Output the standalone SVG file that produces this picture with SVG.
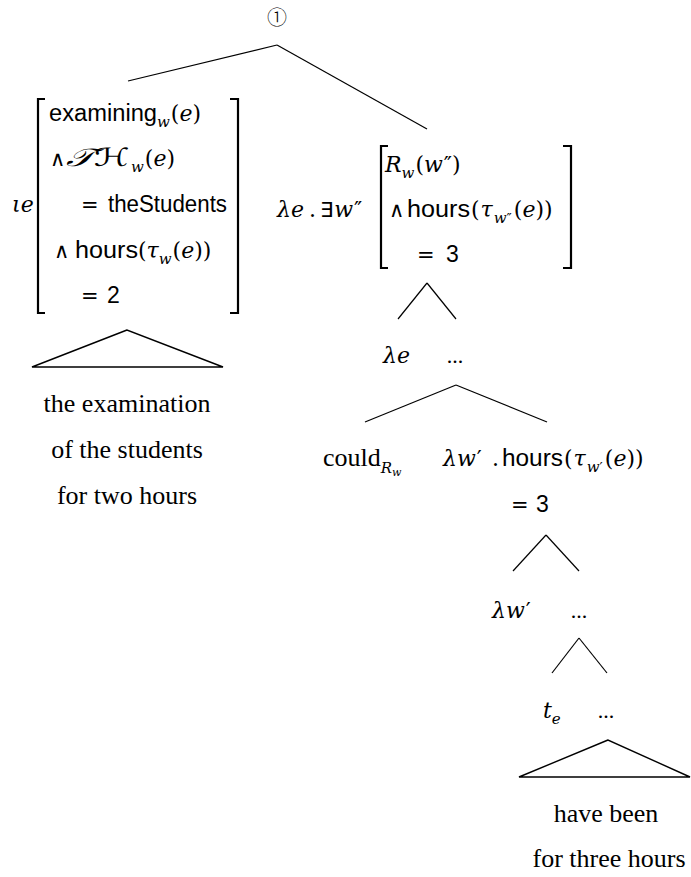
<svg xmlns="http://www.w3.org/2000/svg" width="691" height="877" viewBox="0 0 691 877">
<style>
text{fill:#000}
.s{font-family:"Liberation Sans",Arial,sans-serif;font-size:23px}
.m{font-family:"DejaVu Serif","Liberation Serif",serif;font-style:italic;font-size:22px}
.u{font-family:"DejaVu Serif","Liberation Serif",serif;font-style:normal;font-size:22px}
.y{font-family:"DejaVu Sans",sans-serif;font-size:21px}
.p{font-family:"DejaVu Sans",sans-serif;font-style:normal}
.sb{font-family:"DejaVu Serif","Liberation Serif",serif;font-style:italic;font-size:15px}
.ss{font-family:"DejaVu Serif","Liberation Serif",serif;font-style:italic;font-size:11px}
.r{font-family:"Liberation Serif","Times New Roman",serif;font-size:26px}
.c{text-anchor:middle}
.ln{stroke:#000;stroke-width:1.2;fill:none}
.br{stroke:#000;stroke-width:2.2;fill:none}
.tri{stroke:#000;stroke-width:1.4;fill:none;stroke-linejoin:miter}
</style>

<g id="connectors">
  <line class="ln" x1="277" y1="45" x2="128" y2="81"/>
  <line class="ln" x1="277" y1="45" x2="427" y2="129"/>
  <line class="ln" x1="427" y1="283" x2="398" y2="319"/>
  <line class="ln" x1="427" y1="283" x2="456" y2="319"/>
  <line class="ln" x1="456" y1="385" x2="365" y2="422"/>
  <line class="ln" x1="456" y1="385" x2="547" y2="422"/>
  <line class="ln" x1="546" y1="535" x2="513" y2="571"/>
  <line class="ln" x1="546" y1="535" x2="579" y2="571"/>
  <line class="ln" x1="579" y1="638" x2="552" y2="673"/>
  <line class="ln" x1="579" y1="638" x2="607" y2="673"/>
  <polygon class="tri" points="127,330 32,367 223,367"/>
  <polygon class="tri" points="608,740 519,777 690,777"/>
</g>

<g id="node-root">
  <text class="c" x="277" y="25" style="font-family:'Noto Sans CJK JP','DejaVu Sans',sans-serif;font-size:20px;font-weight:300">①</text>
</g>

<g id="node-iota">
  <text class="m" x="12" y="212">ιe</text>
  <path class="br" d="M45,99 H38 V313 H45"/>
  <path class="br" d="M230,99 H238 V313 H230"/>
  <text class="s" x="49" y="121" textLength="108" lengthAdjust="spacingAndGlyphs">examining</text>
  <text class="m" x="157" y="121"><tspan class="sb" dy="6">w</tspan><tspan class="u" dy="-6" dx="1">(</tspan>e<tspan class="u">)</tspan></text>
  <text class="y" x="50" y="166">∧</text>
  <text x="66" y="166" textLength="64" lengthAdjust="spacingAndGlyphs" style="font-family:'DejaVu Serif','DejaVu Sans',serif;font-style:italic;font-size:25px">𝒯ℋ</text>
  <text class="m" x="131" y="166"><tspan class="sb" dy="6">w</tspan><tspan class="u" dy="-6" dx="1">(</tspan>e<tspan class="u">)</tspan></text>
  <text class="y" x="81" y="212">=</text>
  <text class="s" x="108" y="212" textLength="119" lengthAdjust="spacingAndGlyphs">theStudents</text>
  <text class="y" x="54" y="258">∧</text>
  <text class="s" x="75" y="258" textLength="63" lengthAdjust="spacingAndGlyphs">hours</text>
  <text class="u" x="138" y="258">(<tspan class="m">τ</tspan><tspan class="sb" dy="6">w</tspan><tspan dy="-6" dx="1">(</tspan><tspan class="m">e</tspan>))</text>
  <text class="y" x="81" y="303">=</text>
  <text class="s" x="107" y="303">2</text>
</g>

<g id="node-left-leaf">
  <text class="r c" x="127" y="412">the examination</text>
  <text class="r c" x="127" y="458">of the students</text>
  <text class="r c" x="127" y="504">for two hours</text>
</g>

<g id="node-lambda-exists">
  <text class="m" x="277" y="217">λe<tspan class="u" dx="5">.</tspan><tspan class="y" dx="4" style="font-style:normal">∃</tspan><tspan dx="1">w</tspan><tspan class="p" dx="1">″</tspan></text>
  <path class="br" d="M388,146 H381 V268 H388"/>
  <path class="br" d="M563,146 H571 V268 H563"/>
  <text class="m" x="385" y="172">R<tspan class="sb" dy="6">w</tspan><tspan class="u" dy="-6" dx="1">(</tspan>w<tspan class="p" dx="1">″</tspan><tspan class="u">)</tspan></text>
  <text class="y" x="389" y="217">∧</text>
  <text class="s" x="407" y="217" textLength="63" lengthAdjust="spacingAndGlyphs">hours</text>
  <text class="u" x="471" y="217">(<tspan class="m" dx="1">τ</tspan><tspan class="sb" dy="6" dx="1">w</tspan><tspan class="p" style="font-size:14px">″</tspan><tspan dy="-6" dx="2">(</tspan><tspan class="m">e</tspan>))</text>
  <text class="y" x="417" y="262">=</text>
  <text class="s" x="446" y="262">3</text>
</g>

<g id="node-lambda-e">
  <text class="m" x="383" y="363">λe</text>
</g>
<g id="node-dots-1">
  <text class="r c" x="455" y="363" style="font-size:22px">...</text>
</g>

<g id="node-could">
  <text x="323" y="466" style="font-family:'Liberation Serif','Times New Roman',serif;font-size:26px">could<tspan class="sb" dy="7">R</tspan><tspan class="ss" dy="3">w</tspan></text>
</g>

<g id="node-lambda-w-hours">
  <text class="m" x="443" y="466">λw<tspan class="p" dx="1">′</tspan></text>
  <text class="u" x="492" y="466">.</text>
  <text class="s" x="502" y="466" textLength="61" lengthAdjust="spacingAndGlyphs">hours</text>
  <text class="u" x="564" y="466">(<tspan class="m" dx="1">τ</tspan><tspan class="sb" dy="6" dx="1">w</tspan><tspan class="p" style="font-size:14px">′</tspan><tspan dy="-6" dx="2">(</tspan><tspan class="m">e</tspan>))</text>
  <text class="y" x="511" y="512">=</text>
  <text class="s" x="536" y="512">3</text>
</g>

<g id="node-lambda-w">
  <text class="m" x="492" y="618">λw<tspan class="p" dx="1">′</tspan></text>
</g>
<g id="node-dots-2">
  <text class="r c" x="579" y="618" style="font-size:22px">...</text>
</g>

<g id="node-te">
  <text class="m" x="543" y="718">t<tspan class="sb" dy="6">e</tspan></text>
</g>
<g id="node-dots-3">
  <text class="r c" x="606" y="718" style="font-size:22px">...</text>
</g>

<g id="node-right-leaf">
  <text class="r c" x="606" y="822">have been</text>
  <text class="r c" x="609" y="867">for three hours</text>
</g>
</svg>
